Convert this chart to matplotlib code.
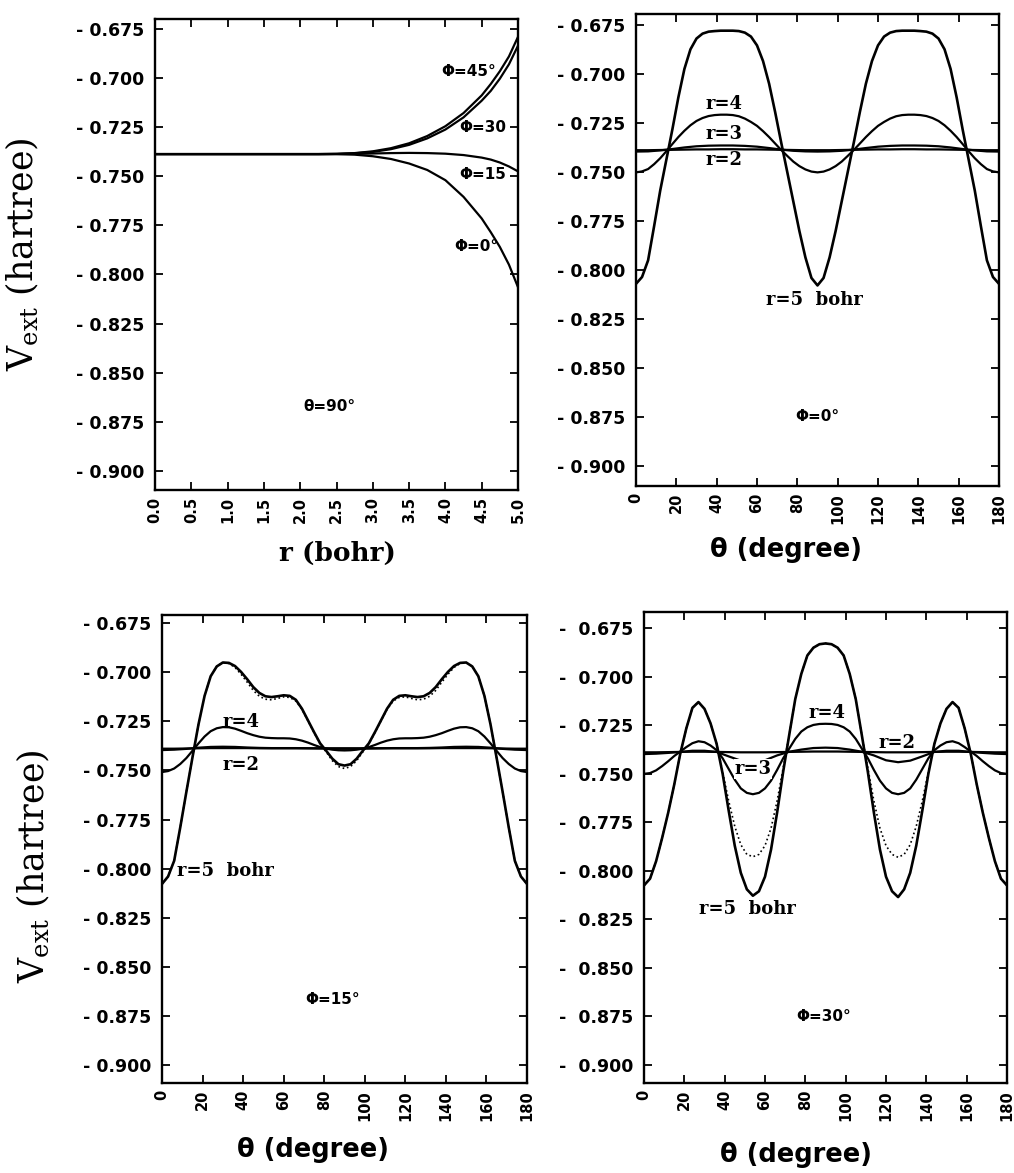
import numpy as np
import matplotlib
matplotlib.use("Agg")
import matplotlib.pyplot as plt

plt.rcParams['font.family'] = ['DejaVu Sans']
plt.rcParams['mathtext.fontset'] = 'dejavuserif'

# ---- data ----
# panel (a): theta = 90 deg, V_ext vs r for several phi
r_vals = [0.0, 0.5, 1.0, 1.5, 2.0, 2.25, 2.5, 2.75, 3.0, 3.25, 3.5, 3.75,
          4.0, 4.25, 4.5, 4.625, 4.75, 4.875, 5.0]
v_phi0 = [-0.7387, -0.7387, -0.7387, -0.7387, -0.7387, -0.7387, -0.7387, -0.7390,
          -0.7398, -0.7412, -0.7435, -0.7468, -0.7520, -0.7605, -0.7715, -0.7785,
          -0.7860, -0.7950, -0.8065]
v_phi15 = [-0.7387, -0.7387, -0.7387, -0.7387, -0.7387, -0.7387, -0.7387, -0.7386,
           -0.7384, -0.7382, -0.7381, -0.7382, -0.7385, -0.7392, -0.7405, -0.7415,
           -0.7430, -0.7450, -0.7475]
v_phi30 = [-0.7387, -0.7387, -0.7387, -0.7387, -0.7387, -0.7387, -0.7386, -0.7383,
           -0.7376, -0.7362, -0.7340, -0.7307, -0.7262, -0.7200, -0.7115, -0.7065,
           -0.7003, -0.6930, -0.6835]
v_phi45 = [-0.7387, -0.7387, -0.7387, -0.7387, -0.7387, -0.7387, -0.7386, -0.7382,
           -0.7373, -0.7357, -0.7332, -0.7295, -0.7245, -0.7178, -0.7088, -0.7030,
           -0.6965, -0.6890, -0.6790]

# theta grids (degrees)
theta_fine = np.arange(0, 181, 3)
theta_coarse = np.arange(0, 181, 6)

# panel (b): phi = 0
b_r5 = [-0.8070, -0.8035, -0.7950, -0.7775, -0.7595, -0.7440, -0.7285, -0.7120, -0.6975, -0.6875,
        -0.6820, -0.6795, -0.6785, -0.6782, -0.6780, -0.6780, -0.6780, -0.6782, -0.6790, -0.6810,
        -0.6855, -0.6935, -0.7050, -0.7195, -0.7350, -0.7500, -0.7650, -0.7800, -0.7935, -0.8040,
        -0.8078,
        -0.8040, -0.7935, -0.7800, -0.7650, -0.7500, -0.7350, -0.7195, -0.7050, -0.6935, -0.6855,
        -0.6810, -0.6790, -0.6782, -0.6780, -0.6780, -0.6780, -0.6782, -0.6785, -0.6795, -0.6820,
        -0.6875, -0.6975, -0.7120, -0.7285, -0.7440, -0.7595, -0.7775, -0.7950, -0.8035, -0.8070]
b_r4 = [-0.7502, -0.7497, -0.7485, -0.7460, -0.7430, -0.7395, -0.7358, -0.7322, -0.7290, -0.7262,
        -0.7240, -0.7225, -0.7215, -0.7210, -0.7208, -0.7208, -0.7210, -0.7216, -0.7228, -0.7245,
        -0.7265, -0.7292, -0.7322, -0.7355, -0.7388, -0.7418, -0.7447, -0.7470, -0.7487, -0.7498,
        -0.7502,
        -0.7498, -0.7487, -0.7470, -0.7447, -0.7418, -0.7388, -0.7355, -0.7322, -0.7292, -0.7265,
        -0.7245, -0.7228, -0.7216, -0.7210, -0.7208, -0.7208, -0.7210, -0.7215, -0.7225, -0.7240,
        -0.7262, -0.7290, -0.7322, -0.7358, -0.7395, -0.7430, -0.7460, -0.7485, -0.7497, -0.7502]
b_r3 = [-0.7396, -0.7395, -0.7390, -0.7383, -0.7375, -0.7369, -0.7366, -0.7365, -0.7365, -0.7367,
        -0.7371, -0.7378, -0.7386, -0.7392, -0.7395, -0.7396, -0.7395, -0.7392, -0.7386, -0.7378,
        -0.7371, -0.7367, -0.7365, -0.7365, -0.7366, -0.7369, -0.7375, -0.7383, -0.7390, -0.7395,
        -0.7396]
b_r2 = [-0.7389, -0.7389, -0.7388, -0.7387, -0.7386, -0.7385, -0.7385, -0.7384, -0.7384, -0.7385,
        -0.7385, -0.7386, -0.7387, -0.7388, -0.7389, -0.7389, -0.7389, -0.7388, -0.7387, -0.7386,
        -0.7385, -0.7385, -0.7384, -0.7384, -0.7385, -0.7385, -0.7386, -0.7387, -0.7388, -0.7389,
        -0.7389]

# panel (c): phi = 15
c_r5 = [-0.8078, -0.8040, -0.7960, -0.7790, -0.7610, -0.7435, -0.7265, -0.7120, -0.7020, -0.6970,
        -0.6950, -0.6952, -0.6968, -0.6998, -0.7035, -0.7075, -0.7105, -0.7122, -0.7126, -0.7122,
        -0.7117, -0.7120, -0.7140, -0.7185, -0.7245, -0.7305, -0.7362, -0.7400, -0.7440, -0.7468,
        -0.7475,
        -0.7468, -0.7440, -0.7400, -0.7362, -0.7305, -0.7245, -0.7185, -0.7140, -0.7120, -0.7117,
        -0.7122, -0.7126, -0.7122, -0.7105, -0.7075, -0.7035, -0.6998, -0.6968, -0.6952, -0.6950,
        -0.6970, -0.7020, -0.7120, -0.7265, -0.7435, -0.7610, -0.7790, -0.7960, -0.8040, -0.8078]
c_r5_dot = [-0.8078, -0.8040, -0.7960, -0.7790, -0.7610, -0.7435, -0.7265, -0.7120, -0.7020, -0.6970,
            -0.6950, -0.6955, -0.6975, -0.7010, -0.7050, -0.7092, -0.7122, -0.7137, -0.7140, -0.7133,
            -0.7125, -0.7128, -0.7146, -0.7188, -0.7247, -0.7307, -0.7365, -0.7406, -0.7450, -0.7480,
            -0.7490,
            -0.7480, -0.7450, -0.7406, -0.7365, -0.7307, -0.7247, -0.7188, -0.7146, -0.7128, -0.7125,
            -0.7133, -0.7140, -0.7137, -0.7122, -0.7092, -0.7050, -0.7010, -0.6975, -0.6955, -0.6950,
            -0.6970, -0.7020, -0.7120, -0.7265, -0.7435, -0.7610, -0.7790, -0.7960, -0.8040, -0.8078]
c_r4 = [-0.7508, -0.7503, -0.7490, -0.7467, -0.7437, -0.7400, -0.7362, -0.7327, -0.7300, -0.7285,
        -0.7279, -0.7280, -0.7287, -0.7298, -0.7310, -0.7320, -0.7328, -0.7333, -0.7335, -0.7336,
        -0.7336, -0.7337, -0.7341, -0.7348, -0.7358, -0.7370, -0.7381, -0.7389, -0.7394, -0.7397,
        -0.7398,
        -0.7397, -0.7394, -0.7389, -0.7381, -0.7370, -0.7358, -0.7348, -0.7341, -0.7337, -0.7336,
        -0.7336, -0.7335, -0.7333, -0.7328, -0.7320, -0.7310, -0.7298, -0.7287, -0.7280, -0.7279,
        -0.7285, -0.7300, -0.7327, -0.7362, -0.7400, -0.7437, -0.7467, -0.7490, -0.7503, -0.7508]
c_r3 = [-0.7396, -0.7394, -0.7390, -0.7384, -0.7380, -0.7379, -0.7380, -0.7383, -0.7385, -0.7386,
        -0.7386, -0.7386, -0.7387, -0.7388, -0.7389, -0.7389, -0.7389, -0.7388, -0.7387, -0.7386,
        -0.7386, -0.7386, -0.7385, -0.7383, -0.7380, -0.7379, -0.7380, -0.7384, -0.7390, -0.7394,
        -0.7396]
c_r2 = [-0.7389, -0.7389, -0.7388, -0.7387, -0.7386, -0.7386, -0.7386, -0.7386, -0.7387, -0.7387,
        -0.7387, -0.7387, -0.7387, -0.7387, -0.7387, -0.7387, -0.7387, -0.7387, -0.7387, -0.7387,
        -0.7387, -0.7387, -0.7387, -0.7386, -0.7386, -0.7386, -0.7386, -0.7387, -0.7388, -0.7389,
        -0.7389]

# panel (d): phi = 30
d_r5 = [-0.8075, -0.8040, -0.7950, -0.7830, -0.7700, -0.7555, -0.7395, -0.7265, -0.7160, -0.7130,
        -0.7165, -0.7240, -0.7345, -0.7500, -0.7690, -0.7870, -0.8010, -0.8095, -0.8128, -0.8105,
        -0.8030, -0.7890, -0.7700, -0.7490, -0.7300, -0.7115, -0.6985, -0.6890, -0.6850, -0.6832,
        -0.6828,
        -0.6832, -0.6850, -0.6890, -0.6985, -0.7115, -0.7300, -0.7490, -0.7700, -0.7890, -0.8030,
        -0.8105, -0.8135, -0.8095, -0.8010, -0.7870, -0.7690, -0.7500, -0.7345, -0.7240, -0.7165,
        -0.7130, -0.7160, -0.7265, -0.7395, -0.7555, -0.7700, -0.7830, -0.7950, -0.8040, -0.8075]
d_r5_dot = [-0.8075, -0.8040, -0.7950, -0.7830, -0.7700, -0.7555, -0.7395, -0.7265, -0.7160, -0.7130,
            -0.7165, -0.7240, -0.7345, -0.7490, -0.7640, -0.7770, -0.7865, -0.7915, -0.7927, -0.7915,
            -0.7870, -0.7780, -0.7640, -0.7470, -0.7300, -0.7115, -0.6985, -0.6890, -0.6850, -0.6832,
            -0.6828,
            -0.6832, -0.6850, -0.6890, -0.6985, -0.7115, -0.7300, -0.7470, -0.7640, -0.7780, -0.7870,
            -0.7915, -0.7930, -0.7915, -0.7865, -0.7770, -0.7640, -0.7490, -0.7345, -0.7240, -0.7165,
            -0.7130, -0.7160, -0.7265, -0.7395, -0.7555, -0.7700, -0.7830, -0.7950, -0.8040, -0.8075]
d_r4 = [-0.7500, -0.7496, -0.7482, -0.7460, -0.7435, -0.7408, -0.7385, -0.7362, -0.7342, -0.7332,
        -0.7337, -0.7354, -0.7378, -0.7420, -0.7475, -0.7530, -0.7575, -0.7598, -0.7605, -0.7598,
        -0.7575, -0.7535, -0.7480, -0.7420, -0.7370, -0.7320, -0.7282, -0.7260, -0.7248, -0.7243,
        -0.7242,
        -0.7243, -0.7248, -0.7260, -0.7282, -0.7320, -0.7370, -0.7420, -0.7480, -0.7535, -0.7575,
        -0.7598, -0.7605, -0.7598, -0.7575, -0.7530, -0.7475, -0.7420, -0.7378, -0.7354, -0.7337,
        -0.7332, -0.7342, -0.7362, -0.7385, -0.7408, -0.7435, -0.7460, -0.7482, -0.7496, -0.7500]
d_r3 = [-0.7398, -0.7396, -0.7392, -0.7387, -0.7381, -0.7381, -0.7387, -0.7410, -0.7432, -0.7440,
        -0.7430, -0.7405, -0.7386, -0.7375, -0.7367, -0.7365, -0.7367, -0.7375, -0.7386, -0.7405,
        -0.7430, -0.7440, -0.7432, -0.7410, -0.7387, -0.7381, -0.7381, -0.7387, -0.7392, -0.7396,
        -0.7398]
d_r2 = [-0.7389, -0.7389, -0.7388, -0.7387, -0.7386, -0.7386, -0.7387, -0.7388, -0.7389, -0.7389,
        -0.7389, -0.7388, -0.7387, -0.7386, -0.7385, -0.7385, -0.7385, -0.7386, -0.7387, -0.7388,
        -0.7389, -0.7389, -0.7389, -0.7388, -0.7387, -0.7386, -0.7386, -0.7387, -0.7388, -0.7389,
        -0.7389]

ytick_vals = [-0.675, -0.700, -0.725, -0.750, -0.775, -0.800, -0.825, -0.850, -0.875, -0.900]
ytick_labels = ['- 0.675', '- 0.700', '- 0.725', '- 0.750', '- 0.775',
                '- 0.800', '- 0.825', '- 0.850', '- 0.875', '- 0.900']
ytick_labels_d = ['-  0.675', '-  0.700', '-  0.725', '-  0.750', '-  0.775',
                  '-  0.800', '-  0.825', '-  0.850', '-  0.875', '-  0.900']
r_ticks = [0.0, 0.5, 1.0, 1.5, 2.0, 2.5, 3.0, 3.5, 4.0, 4.5, 5.0]
r_tick_labels = ['0.0', '0.5', '1.0', '1.5', '2.0', '2.5', '3.0', '3.5', '4.0', '4.5', '5.0']
th_ticks = [0, 20, 40, 60, 80, 100, 120, 140, 160, 180]
th_tick_labels = ['0', '20', '40', '60', '80', '100', '120', '140', '160', '180']

# ---- layout (pixel boxes of the four frames) ----
W, H = 1014, 1173
fig = plt.figure(figsize=(W / 100, H / 100), dpi=100)


def box(x0, x1, y0, y1):
    return [x0 / W, 1 - y1 / H, (x1 - x0) / W, (y1 - y0) / H]


ax1 = fig.add_axes(box(155, 518, 19, 490))
ax2 = fig.add_axes(box(636, 999, 14, 486))
ax3 = fig.add_axes(box(162, 527, 615, 1083))
ax4 = fig.add_axes(box(644, 1007, 612, 1083))


def style(ax, ylim, xlim, xt, xtl, ytl):
    ax.set_xlim(*xlim)
    ax.set_ylim(*ylim)
    ax.set_yticks(ytick_vals)
    ax.set_yticklabels(ytl, fontsize=12.5, fontweight='bold')
    ax.set_xticks(xt)
    ax.set_xticklabels(xtl, rotation=90, fontsize=10.5, fontweight='bold')
    ax.tick_params(direction='in', length=6, width=1.3, top=True, right=True)
    ax.tick_params(axis='y', pad=8)
    ax.tick_params(axis='x', pad=5)
    for s in ax.spines.values():
        s.set_linewidth(1.7)


lw = 1.6
ser = dict(fontsize=13, fontweight='bold', family='DejaVu Serif', ha='center', va='center')
sans = dict(fontsize=11, fontweight='bold', ha='center', va='center')
ylab = r'$\mathrm{V}_{\mathrm{ext}}$ (hartree)'

# (a)
for v in [v_phi0, v_phi15, v_phi30, v_phi45]:
    ax1.plot(r_vals, v, color='black', lw=lw)
style(ax1, (-0.9098, -0.6699), (0, 5), r_ticks, r_tick_labels, ytick_labels)
ax1.text(4.32, -0.6965, 'Φ=45°', **sans)
ax1.text(4.51, -0.7251, 'Φ=30', **sans)
ax1.text(4.51, -0.7489, 'Φ=15', **sans)
ax1.text(4.43, -0.7857, 'Φ=0°', **sans)
ax1.text(2.40, -0.8675, 'θ=90°', **sans)
ax1.set_ylabel(ylab, fontsize=25, family='DejaVu Serif', va='center')
ax1.yaxis.set_label_coords(-0.364, 0.50)
ax1.set_xlabel('r (bohr)', fontsize=19, fontweight='bold', family='DejaVu Serif', va='center')
ax1.xaxis.set_label_coords(0.503, -0.134)

# (b)
ax2.plot(theta_fine, b_r5, color='black', lw=lw + 0.3)
ax2.plot(theta_fine, b_r4, color='black', lw=lw)
ax2.plot(theta_coarse, b_r3, color='black', lw=lw)
ax2.plot(theta_coarse, b_r2, color='black', lw=lw)
style(ax2, (-0.9100, -0.6695), (0, 180), th_ticks, th_tick_labels, ytick_labels)
ax2.text(43.6, -0.7156, 'r=4', **ser)
ax2.text(43.6, -0.7306, 'r=3', **ser)
ax2.text(43.6, -0.7439, 'r=2', **ser)
ax2.text(88.7, -0.8153, 'r=5  bohr', **ser)
ax2.text(89.8, -0.8745, 'Φ=0°', **sans)
ax2.set_xlabel('θ (degree)', fontsize=18.5, fontweight='bold', va='center')
ax2.xaxis.set_label_coords(0.413, -0.136)

# (c)
ax3.plot(theta_fine, c_r5_dot, color='black', lw=1.2, ls=':')
ax3.plot(theta_fine, c_r5, color='black', lw=lw + 0.3)
ax3.plot(theta_fine, c_r4, color='black', lw=lw)
ax3.plot(theta_coarse, c_r3, color='black', lw=lw)
ax3.plot(theta_coarse, c_r2, color='black', lw=lw)
style(ax3, (-0.9092, -0.6708), (0, 180), th_ticks, th_tick_labels, ytick_labels)
ax3.text(39.0, -0.7252, 'r=4', **ser)
ax3.text(38.8, -0.7473, 'r=2', **ser)
ax3.text(7.3, -0.8013, 'r=5  bohr', **dict(ser, ha='left'))
ax3.text(84.0, -0.8668, 'Φ=15°', **sans)
ax3.set_ylabel(ylab, fontsize=25, family='DejaVu Serif', va='center')
ax3.yaxis.set_label_coords(-0.351, 0.464)
ax3.set_xlabel('θ (degree)', fontsize=18.5, fontweight='bold', va='center')
ax3.xaxis.set_label_coords(0.415, -0.143)

# (d)
ax4.plot(theta_fine, d_r5_dot, color='black', lw=1.2, ls=':')
ax4.plot(theta_fine, d_r5, color='black', lw=lw + 0.3)
ax4.plot(theta_fine, d_r4, color='black', lw=lw)
ax4.plot(theta_coarse, d_r3, color='black', lw=lw)
ax4.plot(theta_coarse, d_r2, color='black', lw=lw)
style(ax4, (-0.9093, -0.6666), (0, 180), th_ticks, th_tick_labels, ytick_labels_d)
ax4.text(90.7, -0.7185, 'r=4', **ser)
ax4.text(125.4, -0.7340, 'r=2', **ser)
ax4.text(54.0, -0.7476, 'r=3', bbox=dict(facecolor='white', edgecolor='none', pad=0.5), **ser)
ax4.text(51.3, -0.8197, 'r=5  bohr', **ser)
ax4.text(89.2, -0.8752, 'Φ=30°', **sans)
ax4.set_xlabel('θ (degree)', fontsize=18.5, fontweight='bold', va='center')
ax4.xaxis.set_label_coords(0.419, -0.153)

fig.savefig('out.png', dpi=100)
